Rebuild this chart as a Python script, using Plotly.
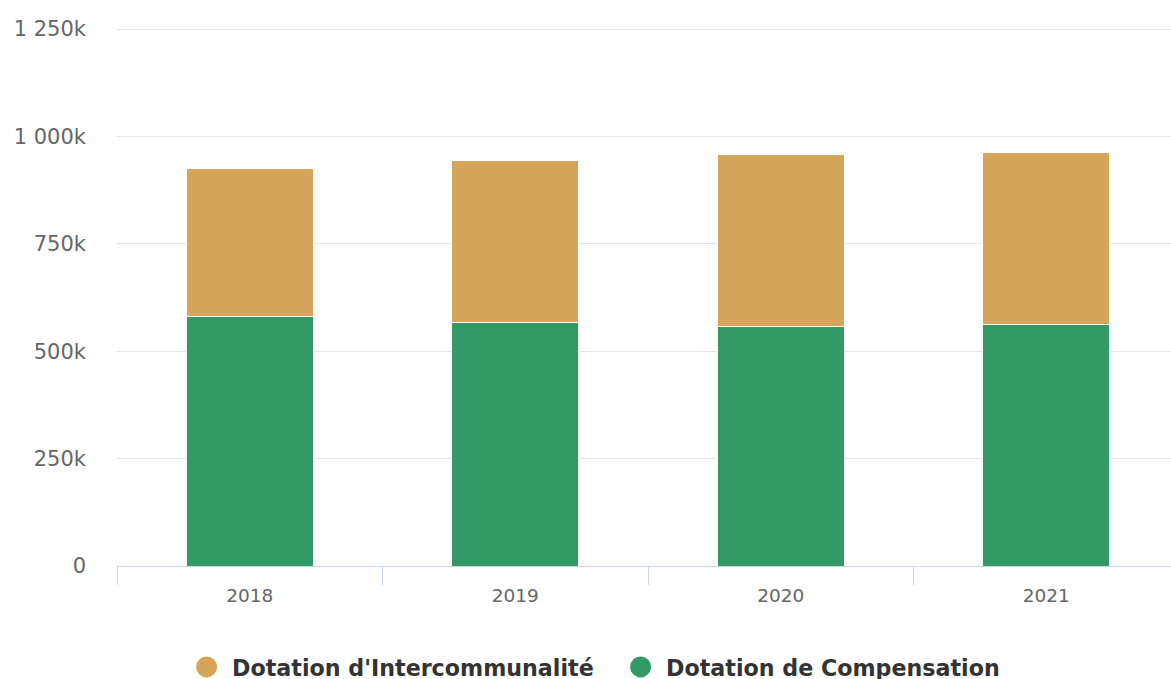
import plotly.graph_objects as go

years = ["2018", "2019", "2020", "2021"]
compensation = [581000, 567000, 558000, 563000]
intercommunalite = [344000, 377000, 400000, 400000]
y_tick_vals = [0, 250000, 500000, 750000, 1000000, 1250000]
y_tick_text = ["0", "250k", "500k", "750k", "1 000k", "1 250k"]

color_inter = "#d4a55a"
color_comp = "#339966"
font_fam = "DejaVu Sans, sans-serif"

fig = go.Figure()
fig.add_trace(go.Bar(x=years, y=compensation, name="Dotation de Compensation",
                     marker=dict(color=color_comp, line=dict(color="white", width=1)),
                     showlegend=False))
fig.add_trace(go.Bar(x=years, y=intercommunalite, name="Dotation d'Intercommunalité",
                     marker=dict(color=color_inter, line=dict(color="white", width=1)),
                     showlegend=False))
# legend entries with circle symbols
fig.add_trace(go.Scatter(x=[None], y=[None], mode="markers", name="Dotation d'Intercommunalité",
                         marker=dict(color=color_inter, size=16, symbol="circle",
                                     line=dict(color=color_inter, width=5))))
fig.add_trace(go.Scatter(x=[None], y=[None], mode="markers", name="Dotation de Compensation",
                         marker=dict(color=color_comp, size=16, symbol="circle",
                                     line=dict(color=color_comp, width=5))))

fig.update_layout(
    width=1179, height=679,
    barmode="stack",
    bargap=0.521,
    plot_bgcolor="white", paper_bgcolor="white",
    margin=dict(l=117, r=0, t=28, b=113, autoexpand=False),
    font=dict(family=font_fam, color="#666666", size=20),
    showlegend=True,
    legend=dict(orientation="h", xref="container", x=0.5217, xanchor="center",
                y=-0.1877, yanchor="middle", entrywidth=378, entrywidthmode="pixels",
                itemwidth=41,
                font=dict(family=font_fam, size=22.2, color="#333333", weight="bold"),
                itemsizing="trace", traceorder="normal", tracegroupgap=0),
    xaxis=dict(type="category", showgrid=False, showline=True, linecolor="#ccd6eb",
               linewidth=1, ticks="outside", tickson="boundaries", ticklen=18,
               tickcolor="#ccd6eb", tickfont=dict(size=18.5, color="#666666"),
               ticklabelstandoff=13, zeroline=False),
    yaxis=dict(range=[0, 1252500], tickvals=y_tick_vals, ticktext=y_tick_text,
               showgrid=True, gridcolor="#e6e6e6", gridwidth=1, zeroline=False,
               showline=False, ticks="", ticklabelstandoff=30,
               tickfont=dict(size=21, color="#666666")),
)

fig.write_html("out.html", config={"displayModeBar": False},
               post_script="document.body.style.margin='0';document.body.style.overflow='hidden';")
